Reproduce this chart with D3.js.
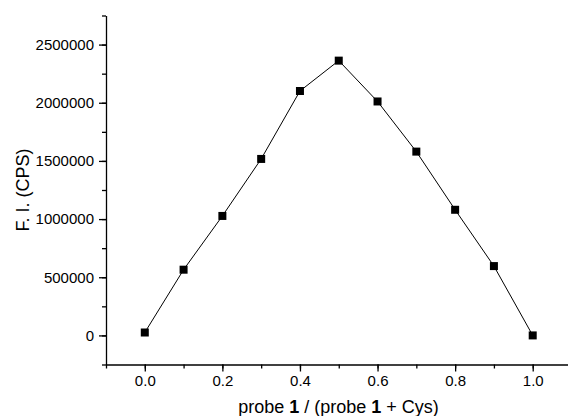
<!DOCTYPE html>
<html><head><meta charset="utf-8">
<script src="https://cdn.jsdelivr.net/npm/d3@7/dist/d3.min.js"></script>
<style>
body{margin:0;background:#fff;}
text{font-family:"Liberation Sans",Arial,sans-serif;fill:#000;}
</style></head>
<body><svg id="c" width="568" height="416"></svg>
<script>
const ratios = [0.0, 0.1, 0.2, 0.3, 0.4, 0.5, 0.6, 0.7, 0.8, 0.9, 1.0];
const intensity = [25000, 565000, 1027000, 1517000, 2101000, 2362000, 2011000, 1580000, 1080000, 596000, 0];
const xTicks = [0.0, 0.2, 0.4, 0.6, 0.8, 1.0];
const yTicks = [0, 500000, 1000000, 1500000, 2000000, 2500000];
const xTitle = ["probe ", "1", " / (probe ", "1", " + Cys)"];
const yTitle = "F. I. (CPS)";

const svg = d3.select("#c");
const x = d3.scaleLinear().domain([-0.1, 1.1]).range([106, 571.5]);
const y = d3.scaleLinear().domain([-250000, 2750000]).range([364.5, 15.5]);

// minor ticks
const xMinor = d3.range(-0.1, 1.11, 0.1).map(v => +v.toFixed(2));
const yMinor = d3.range(-250000, 2750001, 250000);

const gx = svg.append("g").attr("transform", "translate(0,364.5)");
gx.call(d3.axisBottom(x).tickValues(xMinor).tickSize(4).tickFormat(""));
gx.call(g => g.select(".domain").remove());
const gx2 = svg.append("g").attr("transform", "translate(0,364.5)")
  .call(d3.axisBottom(x).tickValues(xTicks).tickSize(7).tickSizeOuter(0).tickFormat(d3.format(".1f")));
gx2.selectAll("text").attr("font-size", 15).attr("y", 11).attr("font-family", "Liberation Sans, Arial, sans-serif");

const gy = svg.append("g").attr("transform", "translate(106,0)");
gy.call(d3.axisLeft(y).tickValues(yMinor).tickSize(4).tickFormat(""));
gy.call(g => g.select(".domain").remove());
const gy2 = svg.append("g").attr("transform", "translate(106,0)")
  .call(d3.axisLeft(y).tickValues(yTicks).tickSize(7).tickSizeOuter(0).tickFormat(d3.format("d")));
gy2.selectAll("text").attr("font-size", 15).attr("x", -12).attr("font-family", "Liberation Sans, Arial, sans-serif");
svg.selectAll("g line, g path").attr("stroke", "#000").attr("stroke-width", 1.3);

const pts = ratios.map((r, i) => [r, intensity[i]]);
svg.append("path").datum(pts)
  .attr("fill", "none").attr("stroke", "#000").attr("stroke-width", 1)
  .attr("d", d3.line().x(d => x(d[0])).y(d => y(d[1])));
svg.selectAll("rect.m").data(pts).enter().append("rect").attr("class", "m")
  .attr("x", d => x(d[0]) - 4).attr("y", d => y(d[1]) - 4)
  .attr("width", 8).attr("height", 8).attr("fill", "#000");

const xt = svg.append("text").attr("x", 338.5).attr("y", 413).attr("text-anchor", "middle").attr("font-size", 18);
xTitle.forEach((s, i) => xt.append("tspan").text(s).attr("font-weight", i % 2 === 1 ? "bold" : "normal"));

svg.append("text").attr("transform", "translate(28.5,190) rotate(-90)")
  .attr("text-anchor", "middle").attr("font-size", 18).text(yTitle);
</script></body></html>
